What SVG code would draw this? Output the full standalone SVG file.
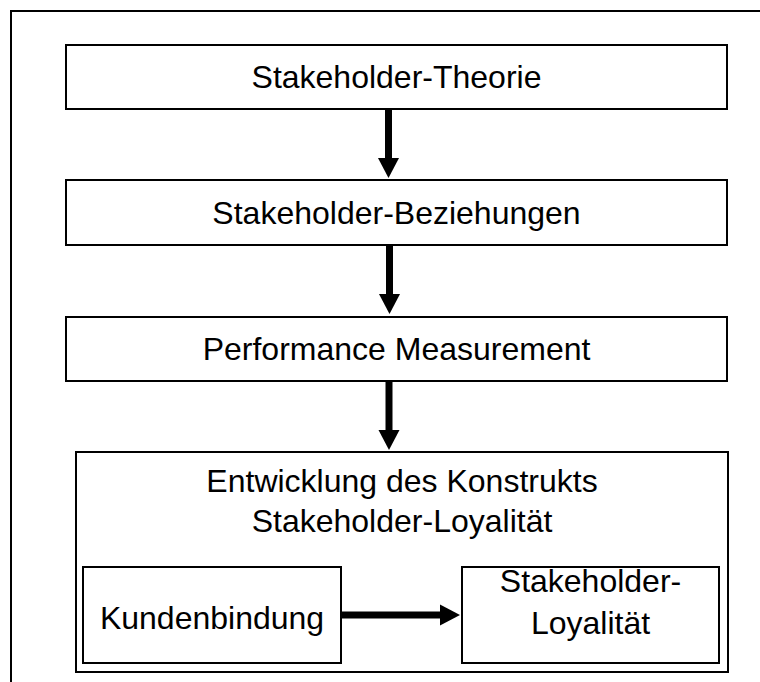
<svg xmlns="http://www.w3.org/2000/svg" width="760" height="682" viewBox="0 0 760 682">
  <style>
    .box { fill: #fff; stroke: #000; stroke-width: 2; }
    .lbl { font-family: "Liberation Sans", Arial, sans-serif; font-size: 32px; fill: #000; text-anchor: middle; }
    .shaft { stroke: #000; stroke-width: 7; fill: none; }
    .head { fill: #000; }
  </style>
  <rect width="760" height="682" fill="#fff"/>
  <!-- outer frame, runs past the right and bottom edges -->
  <rect x="11" y="11" width="760" height="690" fill="none" stroke="#000" stroke-width="2"/>

  <g id="theorie">
    <rect class="box" x="66" y="45" width="661" height="64"/>
    <text class="lbl" x="396.5" y="88">Stakeholder-Theorie</text>
  </g>
  <g id="beziehungen">
    <rect class="box" x="66" y="180" width="661" height="65"/>
    <text class="lbl" x="396.5" y="224">Stakeholder-Beziehungen</text>
  </g>
  <g id="performance">
    <rect class="box" x="66" y="317" width="661" height="64"/>
    <text class="lbl" x="396.5" y="360">Performance Measurement</text>
  </g>
  <g id="konstrukt">
    <rect class="box" x="76" y="452" width="652" height="220"/>
    <text class="lbl" x="402" y="492">Entwicklung des Konstrukts</text>
    <text class="lbl" x="402" y="532">Stakeholder-Loyalität</text>
  </g>
  <g id="kundenbindung">
    <rect class="box" x="83" y="567" width="258" height="96"/>
    <text class="lbl" x="212" y="629">Kundenbindung</text>
  </g>
  <g id="loyalitaet">
    <rect class="box" x="462" y="567" width="257" height="96"/>
    <text class="lbl" x="590.5" y="592">Stakeholder-</text>
    <text class="lbl" x="590.5" y="634">Loyalität</text>
  </g>

  <g id="connectors">
    <line class="shaft" x1="388.5" y1="110" x2="388.5" y2="160"/>
    <polygon class="head" points="378,158 399,158 388.5,178"/>
    <line class="shaft" x1="389.5" y1="246" x2="389.5" y2="296"/>
    <polygon class="head" points="379,294 400,294 389.5,314"/>
    <line class="shaft" x1="389" y1="382" x2="389" y2="432"/>
    <polygon class="head" points="378.5,430 399.5,430 389,450"/>
    <line class="shaft" x1="342" y1="615" x2="442" y2="615"/>
    <polygon class="head" points="440,604.5 440,625.5 460,615"/>
  </g>
</svg>
